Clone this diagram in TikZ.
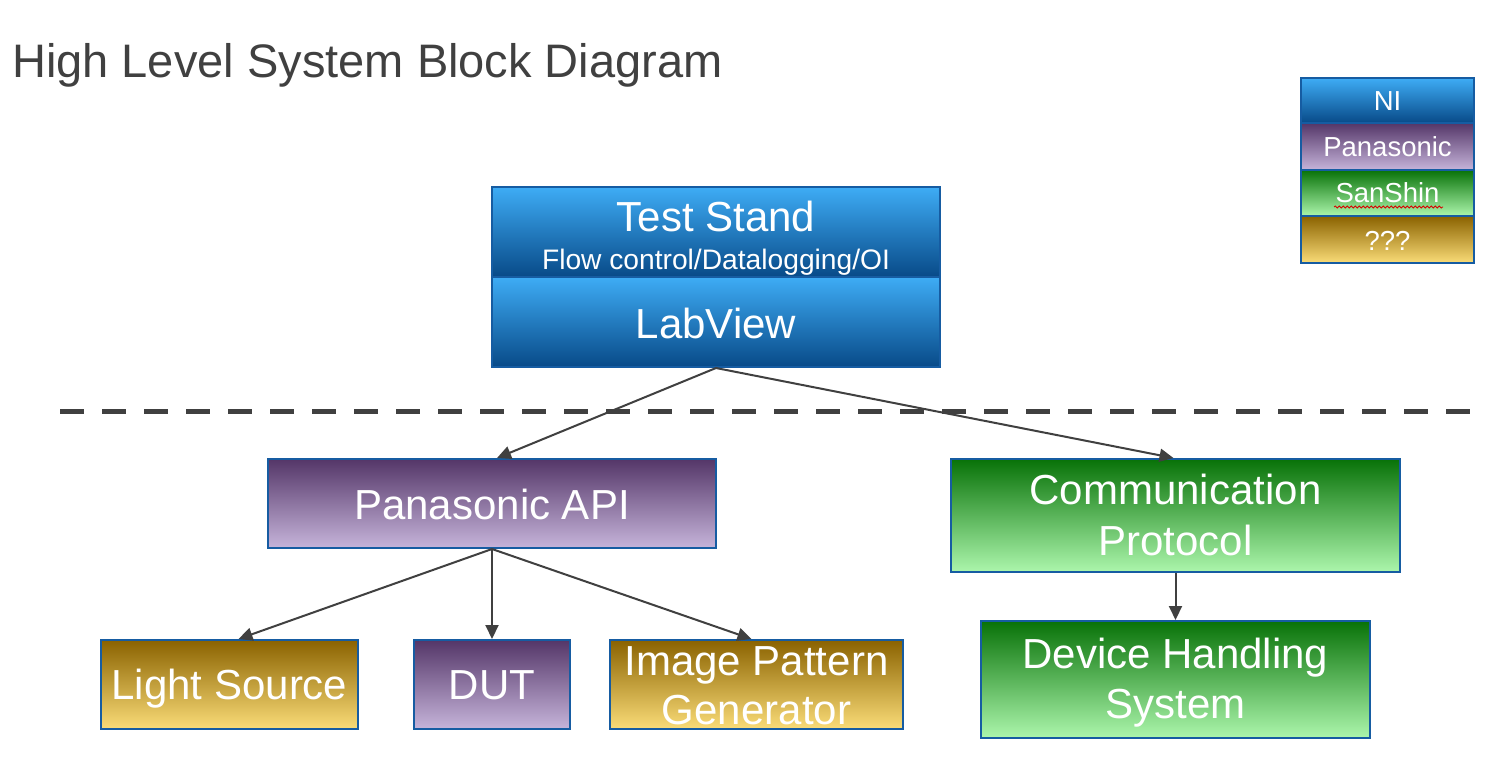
\documentclass[tikz,border=0pt]{standalone}
\usepackage{fontspec}
\setmainfont{Liberation Sans}
\usetikzlibrary{arrows.meta,decorations.pathmorphing}
\definecolor{bordc}{RGB}{22,92,162}
\definecolor{arrowc}{RGB}{64,64,64}
\definecolor{titlec}{RGB}{64,64,64}
\definecolor{nitop}{RGB}{62,172,245}
\definecolor{nibot}{RGB}{8,74,136}
\definecolor{patop}{RGB}{84,54,104}
\definecolor{pabot}{RGB}{198,180,218}
\definecolor{sstop}{RGB}{8,114,8}
\definecolor{ssbot}{RGB}{172,246,172}
\definecolor{qqtop}{RGB}{138,98,0}
\definecolor{qqbot}{RGB}{250,220,120}
\tikzset{
  box/.style={draw=bordc, line width=2pt, inner sep=0pt, rectangle},
  lgbox/.style={draw=bordc, line width=2.6pt, inner sep=0pt, rectangle},
  niblue/.style={top color=nitop, bottom color=nibot},
  panpur/.style={top color=patop, bottom color=pabot},
  ssgreen/.style={top color=sstop, bottom color=ssbot},
  qqgold/.style={top color=qqtop, bottom color=qqbot},
  lbl/.style={anchor=base, inner sep=0pt, text=white},
  big/.style={font=\fontsize{42}{48}\selectfont},
  mid/.style={font=\fontsize{28.2}{32}\selectfont},
  small/.style={font=\fontsize{27.5}{30}\selectfont},
  conn/.style={draw=arrowc, line width=2pt, -{Triangle[length=14pt,width=13pt]}},
}
\begin{document}
\begin{tikzpicture}[x=1pt,y=-1pt]
\useasboundingbox[fill=white] (0,0) rectangle (1512,766);
% title
\node[anchor=base west, inner sep=0pt, text=titlec, font=\fontsize{47}{56}\selectfont] (title) at (12,77) {High Level System Block Diagram};
% legend
\node[lgbox, niblue, minimum width=173pt, minimum height=45pt] (lgni) at (1387.5,100.5) {};
\node[lgbox, panpur, minimum width=173pt, minimum height=47pt] (lgpa) at (1387.5,146.5) {};
\node[lgbox, ssgreen, minimum width=173pt, minimum height=46pt] (lgss) at (1387.5,193) {};
\node[lgbox, qqgold, minimum width=173pt, minimum height=47pt] (lgqq) at (1387.5,239.5) {};
\node[lbl, small] (lgnit) at (1387.5,110) {NI};
\node[lbl, small] (lgpat) at (1387.5,156) {Panasonic};
\node[lbl, small] (lgsst) at (1387.5,202.5) {SanShin};
\node[lbl, small] (lgqqt) at (1387.5,250) {???};
\coordinate (wavyL) at (1334,207);
\coordinate (wavyR) at (1443,207);
\draw[red!85!black, line width=0.8pt, decorate, decoration={snake, segment length=4pt, amplitude=1pt}] (wavyL) -- (wavyR);
% Test stand
\node[box, niblue, minimum width=448pt, minimum height=90pt] (ts) at (716,232) {};
\node[lbl, big] (tst1) at (716,231) {Test Stand};
\node[lbl, mid] (tst2) at (716,269) {Flow control/Datalogging/OI};
\node[box, niblue, minimum width=448pt, minimum height=90pt] (lv) at (716,322) {};
\node[lbl, big] (lvt) at (716,338) {LabView};
% dashed separator
\coordinate (dashL) at (60,411);
\coordinate (dashR) at (1470,411);
\draw[arrowc, line width=5pt, dash pattern=on 24pt off 18pt] (dashL) -- (dashR);
% Panasonic API
\node[box, panpur, minimum width=448pt, minimum height=89pt] (pa) at (492,503.5) {};
\node[lbl, big] (pat) at (492,519) {Panasonic API};
% Communication protocol
\node[box, ssgreen, minimum width=449pt, minimum height=113pt] (cp) at (1175.5,515.5) {};
\node[lbl, big] (cpt1) at (1175.5,504) {Communication};
\node[lbl, big] (cpt2) at (1175.5,555) {Protocol};
% Device handling
\node[box, ssgreen, minimum width=389pt, minimum height=117pt] (dh) at (1175.5,679.5) {};
\node[lbl, big] (dht1) at (1175.5,668) {Device Handling};
\node[lbl, big] (dht2) at (1175.5,718) {System};
% lower row
\node[box, qqgold, minimum width=257pt, minimum height=89pt] (ls) at (229.5,684.5) {};
\node[lbl, big] (lst) at (229.5,699) {Light Source};
\node[box, panpur, minimum width=156pt, minimum height=89pt] (dut) at (492,684.5) {};
\node[lbl, big] (dutt) at (492,699) {DUT};
\node[box, qqgold, minimum width=293pt, minimum height=89pt] (ipg) at (756.5,684.5) {};
\node[lbl, big] (ipgt1) at (756.5,675) {Image Pattern};
\node[lbl, big] (ipgt2) at (756.5,724) {Generator};
% connectors
\draw[conn] (lv.south) -- ([xshift=5pt]pa.north);
\draw[conn] (lv.south) -- ([xshift=-2pt]cp.north);
\draw[conn] (pa.south) -- ([xshift=9pt]ls.north);
\draw[conn] (pa.south) -- (dut.north);
\draw[conn] (pa.south) -- ([xshift=-5pt]ipg.north);
\draw[conn] (cp.south) -- (dh.north);
\end{tikzpicture}
\end{document}
